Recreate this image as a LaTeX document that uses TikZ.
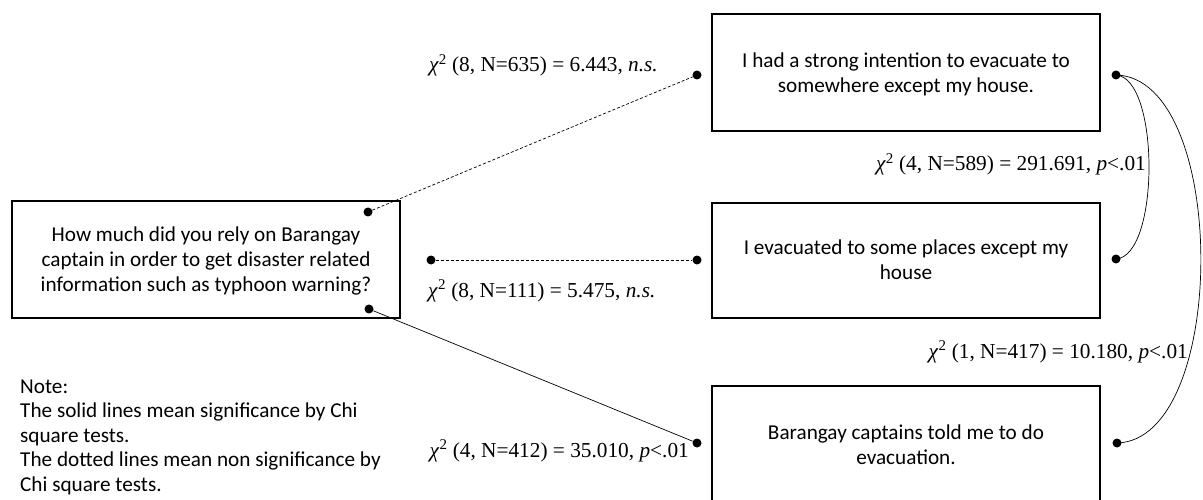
\documentclass[tikz,border=0pt]{standalone}
\usepackage{fontspec}
\setmainfont{Carlito}
\newfontfamily\tnr{Liberation Serif}
\newcommand{\chisq}{\textit{χ}\textsuperscript{2}}
\begin{document}
\begin{tikzpicture}[x=1pt,y=-1pt,
  box/.style={draw, line width=1.2pt, rectangle, inner sep=0pt},
  boxtext/.style={font=\fontsize{21.2}{25}\selectfont, align=center, inner sep=0pt},
  stat/.style={font=\tnr\fontsize{21.3}{24}\selectfont, inner sep=0pt},
  dotnode/.style={circle, fill=black, inner sep=0pt, minimum size=9pt},
  conn/.style={line width=0.7pt},
  dashconn/.style={line width=0.7pt, dash pattern=on 3pt off 2pt}]
\useasboundingbox (0,0) rectangle (1203,500);
\clip (0,0) rectangle (1203,500);
% boxes
\node[box, minimum width=388pt, minimum height=117pt] (q) at (206,259.5) {};
\node[boxtext] (qt) at (206,261) {How much did you rely on Barangay\\captain in order to get disaster related\\information such as typhoon warning?};
\node[box, minimum width=388pt, minimum height=117pt] (b1) at (906,72.5) {};
\node[boxtext] (b1t) at (906,74) {I had a strong intention to evacuate to\\somewhere except my house.};
\node[box, minimum width=388pt, minimum height=115pt] (b2) at (906,260.5) {};
\node[boxtext] (b2t) at (906,260) {I evacuated to some places except my\\house};
\node[box, minimum width=388pt, minimum height=130pt] (b3) at (906,451) {};
\node[boxtext] (b3t) at (906,445) {Barangay captains told me to do\\evacuation.};
% dots
\node[dotnode] (qa) at (368,212) {};
\node[dotnode] (qb) at (431,260) {};
\node[dotnode] (qc) at (369,309) {};
\node[dotnode] (l1) at (697,75) {};
\node[dotnode] (l2) at (697,260) {};
\node[dotnode] (l3) at (697,443) {};
\node[dotnode] (r1) at (1116,75) {};
\node[dotnode] (r2) at (1116,259) {};
\node[dotnode] (r3) at (1117,443) {};
% connectors
\draw[dashconn] (qa) -- (l1);
\draw[dashconn] (qb) -- (l2);
\draw[conn] (qc) -- (l3);
\draw[conn] (r1.center) .. controls (1160,78) and (1160,256) .. (r2.center);
\draw[conn] (r1.center) .. controls (1229,78) and (1229,440) .. (r3.center);
% statistics
\node[stat, anchor=base east] (s1) at (658,72) {\chisq{} (8, N=635) = 6.443, \textit{n.s.}};
\node[stat, anchor=base west] (s2) at (428,297) {\chisq{} (8, N=111) = 5.475, \textit{n.s.}};
\node[stat, anchor=base east] (s3) at (689,457) {\chisq{} (4, N=412) = 35.010, \textit{p}<.01};
\node[stat, anchor=base east] (s4) at (1146,171) {\chisq{} (4, N=589) = 291.691, \textit{p}<.01};
\node[stat, anchor=base east] (s5) at (1188,358) {\chisq{} (1, N=417) = 10.180, \textit{p}<.01};
% note
\node[font=\fontsize{21.2}{24.5}\selectfont, align=left, inner sep=0pt, anchor=north west] (note) at (20,379.5) {Note:\\The solid lines mean significance by Chi\\square tests.\\The dotted lines mean non significance by\\Chi square tests.};
\end{tikzpicture}
\end{document}
